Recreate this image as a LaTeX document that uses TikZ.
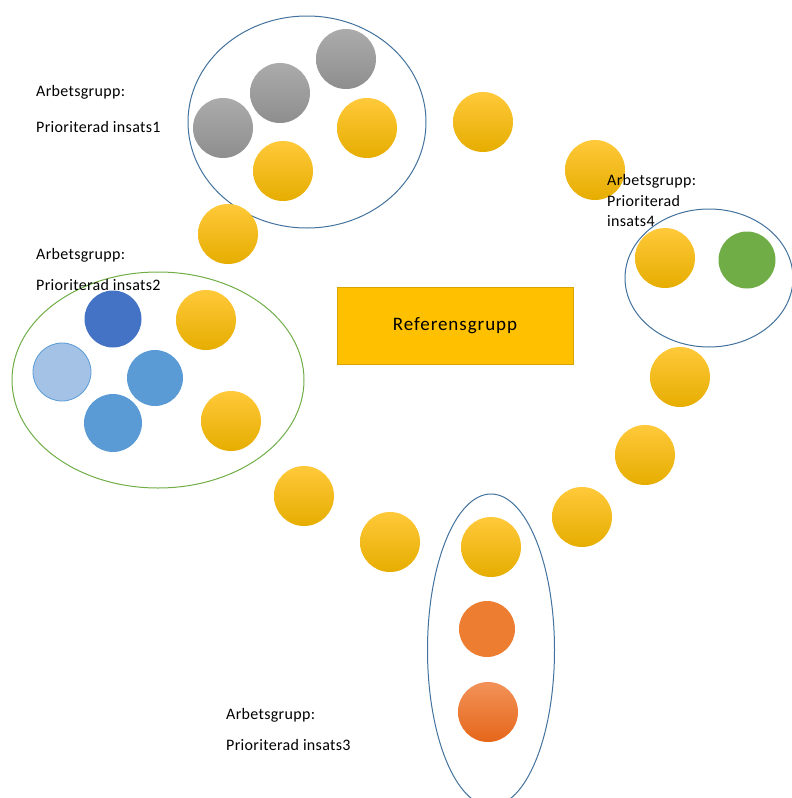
\documentclass[tikz,border=0pt]{standalone}
\usepackage{fontspec}
\setmainfont{Carlito}
\newfontfamily\lblfont[LetterSpace=2]{Carlito}
\newfontfamily\reffont[LetterSpace=5]{Carlito}
\usetikzlibrary{shapes.geometric}
\definecolor{ytop}{HTML}{FFC93A}
\definecolor{ymid}{HTML}{FFC000}
\definecolor{ybot}{HTML}{E6AD00}
\definecolor{gtop}{HTML}{ABABAB}
\definecolor{gbot}{HTML}{8E8E8E}
\definecolor{ringblue}{HTML}{41719C}
\definecolor{ringgreen}{HTML}{70AD47}
\definecolor{darkblue}{HTML}{4472C4}
\definecolor{midblue}{HTML}{5B9BD5}
\definecolor{lightblue}{HTML}{A4C2E6}
\definecolor{leafgreen}{HTML}{70AD47}
\definecolor{orangeA}{HTML}{ED7D31}
\definecolor{otop}{HTML}{F29258}
\definecolor{obot}{HTML}{E5661A}
\definecolor{refgold}{HTML}{FFC000}
\definecolor{refedge}{HTML}{D9A300}
\tikzset{
  bub/.style={circle, inner sep=0pt, minimum size=#1},
  bub/.default=60pt,
  ybub/.style={bub=60pt, top color=ytop, middle color=ymid, bottom color=ybot},
  gbub/.style={bub=60pt, top color=gtop, bottom color=gbot},
  ring/.style={ellipse, draw=ringblue, line width=1pt, inner sep=0pt},
  lbl/.style={anchor=west, inner sep=0pt, font=\lblfont\fontsize{16}{19}\selectfont},
}
\begin{document}
\begin{tikzpicture}[x=1pt,y=-1pt]
\useasboundingbox (0,0) rectangle (792,798);
% group rings
\node[ring, minimum width=238pt, minimum height=212pt] (ring1) at (307,122) {};
\node[ring, draw=ringgreen, minimum width=292pt, minimum height=216pt] (ring2) at (158,380) {};
\node[ring, minimum width=168pt, minimum height=138pt] (ring4) at (709,278) {};
\node[ring, minimum width=127pt, minimum height=312pt] (ring3) at (491,650) {};
% centre box
\node[draw=refedge, fill=refgold, line width=0.8pt, minimum width=236pt, minimum height=77pt,
      font=\reffont\fontsize{19}{22}\selectfont] (ref) at (455,325.5) {Referensgrupp};
% group 1
\node[gbub] (g1) at (223,128) {};
\node[gbub] (g2) at (280,93) {};
\node[gbub] (g3) at (346,59) {};
\node[ybub] (y1a) at (367,128) {};
\node[ybub] (y1b) at (283,171) {};
% group 2
\node[bub=57pt, fill=darkblue] (b1) at (113,319) {};
\node[bub=58pt, fill=lightblue, draw=midblue, line width=0.8pt] (b2) at (62,372) {};
\node[bub=56pt, fill=midblue] (b3) at (155,378) {};
\node[bub=58pt, fill=midblue] (b4) at (113,423) {};
\node[ybub] (y2a) at (206,320) {};
\node[ybub] (y2b) at (231,421) {};
% group 4
\node[ybub] (y4a) at (665,258) {};
\node[bub=57pt, fill=leafgreen] (gr4) at (747,260) {};
% group 3
\node[ybub] (y3a) at (491,547) {};
\node[bub=56pt, fill=orangeA] (o1) at (487,629) {};
\node[bub=60pt, top color=otop, bottom color=obot] (o2) at (488,712) {};
% chain of yellow bubbles
\node[ybub] (c1) at (228,234) {};
\node[ybub] (c2) at (483,122) {};
\node[ybub] (c3) at (595,170) {};
\node[ybub] (c4) at (680,377) {};
\node[ybub] (c5) at (645,455) {};
\node[ybub] (c6) at (582,517) {};
\node[ybub] (c7) at (304,496) {};
\node[ybub] (c8) at (390,542) {};
% labels
\node[lbl] (t1a) at (36,92) {Arbetsgrupp:};
\node[lbl] (t1b) at (36,127) {Prioriterad insats1};
\node[lbl] (t2a) at (36,255) {Arbetsgrupp:};
\node[lbl] (t2b) at (36,285) {Prioriterad insats2};
\node[lbl] (t3a) at (226,715) {Arbetsgrupp:};
\node[lbl] (t3b) at (226,745) {Prioriterad insats3};
\node[lbl] (t4a) at (607,181) {Arbetsgrupp:};
\node[lbl] (t4b) at (607,201) {Prioriterad};
\node[lbl] (t4c) at (607,221) {insats4};
\end{tikzpicture}
\end{document}
